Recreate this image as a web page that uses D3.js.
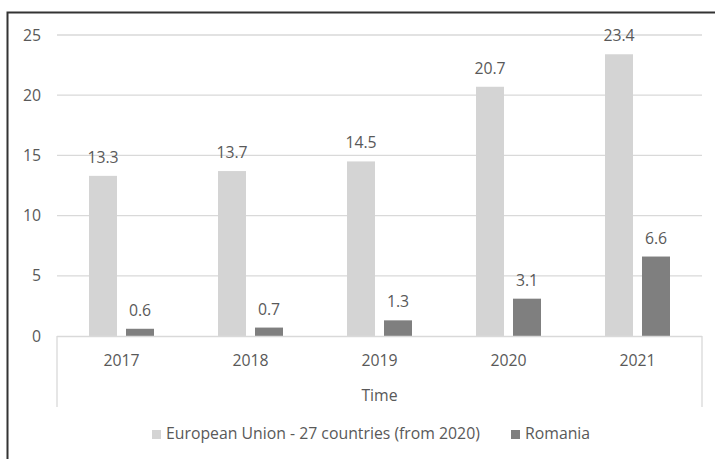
<!DOCTYPE html>
<html><head><meta charset="utf-8">
<script src="https://cdn.jsdelivr.net/npm/d3@7/dist/d3.min.js"></script>
<style>
html,body{margin:0;padding:0;background:#fff;}
text{font-family:"Open Sans",sans-serif;fill:#595959;}
</style></head>
<body><svg id="c" width="715" height="459"></svg>
<script>
const categories = ["2017","2018","2019","2020","2021"];
const seriesNames = ["European Union - 27 countries (from 2020)","Romania"];
const euValues = [13.3,13.7,14.5,20.7,23.4];
const roValues = [0.6,0.7,1.3,3.1,6.6];
const yTicks = [0,5,10,15,20,25];
const axisTitle = "Time";
const colors = ["#d4d4d4","#7f7f7f"];

(function(){
const svg = d3.select("#c");
const fs = 15.8;
// outer border
svg.append("rect").attr("x",7.5).attr("y",12.5).attr("width",720).attr("height",460)
  .attr("fill","#fff").attr("stroke","#333").attr("stroke-width",2);

const pL=57, pR=702, pT=35, pB=336;
const x = d3.scaleBand().domain(categories).range([pL,pR]);
const y = d3.scaleLinear().domain([0,25]).range([pB,pT]);

// gridlines
svg.append("g").selectAll("line").data(yTicks.slice(1)).join("line")
  .attr("x1",pL).attr("x2",pR).attr("y1",d=>y(d)).attr("y2",d=>y(d))
  .attr("stroke","#d9d9d9").attr("stroke-width",1.3);

// y labels
svg.append("g").selectAll("text").data(yTicks).join("text")
  .attr("x",41).attr("y",d=>y(d)+5.5).attr("text-anchor","end")
  .attr("font-size",fs).text(d=>d);

const bw=28, off=18.5;
const series=[euValues,roValues];
series.forEach((vals,si)=>{
  const g=svg.append("g");
  const cx = (d,i)=> x(categories[i])+x.bandwidth()/2 + (si===0?-off:off);
  g.selectAll("rect").data(vals).join("rect")
    .attr("x",(d,i)=>cx(d,i)-bw/2).attr("width",bw)
    .attr("y",d=>y(d)).attr("height",d=>pB-y(d))
    .attr("fill",colors[si]);
  g.selectAll("text").data(vals).join("text")
    .attr("x",(d,i)=>cx(d,i)).attr("y",d=>y(d)-13)
    .attr("text-anchor","middle").attr("font-size",fs)
    .text(d=>d.toFixed(1));
});

// x axis line and end separators
svg.append("line").attr("x1",pL).attr("x2",pR).attr("y1",pB+0.5).attr("y2",pB+0.5)
  .attr("stroke","#d9d9d9").attr("stroke-width",1.3);
[pL,pR].forEach(v=>svg.append("line").attr("x1",v).attr("x2",v)
  .attr("y1",pB).attr("y2",407).attr("stroke","#d9d9d9").attr("stroke-width",1.3));

svg.append("g").selectAll("text").data(categories).join("text")
  .attr("x",d=>x(d)+x.bandwidth()/2).attr("y",366).attr("text-anchor","middle")
  .attr("font-size",fs).text(d=>d);

svg.append("text").attr("x",(pL+pR)/2).attr("y",401).attr("text-anchor","middle")
  .attr("font-size",fs).text(axisTitle);

// legend
const legX=[152,511];
seriesNames.forEach((n,i)=>{
  svg.append("rect").attr("x",legX[i]).attr("y",430).attr("width",9).attr("height",9).attr("fill",colors[i]);
  svg.append("text").attr("x",legX[i]+14).attr("y",439).attr("font-size",fs).text(n);
});
})();
</script></body></html>
